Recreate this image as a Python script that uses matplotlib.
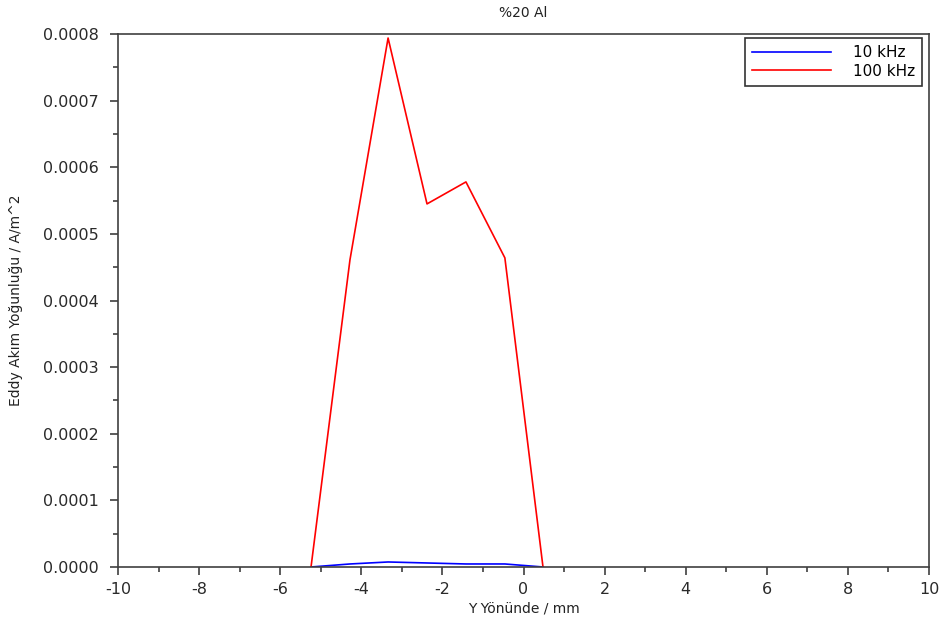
#!/usr/bin/env python3

import matplotlib
matplotlib.use("Agg")
import matplotlib.pyplot as plt
from matplotlib.ticker import MultipleLocator, FormatStrFormatter

# values
y_pos_mm = [-5.24, -4.28, -3.34, -2.38, -1.42, -0.46, 0.48]
eddy_100khz = [0.0, 0.000461, 0.000794, 0.000545, 0.000578, 0.000464, 0.0]
eddy_10khz = [0.0, 4.5e-6, 7.5e-6, 6.0e-6, 4.5e-6, 4.5e-6, 0.0]

series_labels = ["10 kHz", "100 kHz"]
title = "%20 Al"
x_label = "Y Yönünde / mm"
y_label = "Eddy Akım Yoğunluğu / A/m^2"


def main() -> int:
    plt.rcParams["font.family"] = ["DejaVu Sans"]
    fig = plt.figure(figsize=(9.41, 6.21), dpi=100)
    ax = fig.add_axes([0.1254, 0.0870, 0.8619, 0.8582])

    ax.plot(y_pos_mm, eddy_10khz, color="#0000ff", linewidth=1.2, label=series_labels[0])
    ax.plot(y_pos_mm, eddy_100khz, color="#ff0000", linewidth=1.2, label=series_labels[1])

    ax.set_xlim(-10, 10)
    ax.set_ylim(0, 0.0008)
    ax.xaxis.set_major_locator(MultipleLocator(2))
    ax.xaxis.set_minor_locator(MultipleLocator(1))
    ax.yaxis.set_major_locator(MultipleLocator(0.0001))
    ax.yaxis.set_minor_locator(MultipleLocator(0.00005))
    ax.yaxis.set_major_formatter(FormatStrFormatter("%.4f"))
    ax.xaxis.set_major_formatter(FormatStrFormatter("%d"))

    for spine in ax.spines.values():
        spine.set_color("#404040")
        spine.set_linewidth(1.2)
    ax.tick_params(which="major", direction="out", length=6, width=1.2,
                   colors="#404040", labelcolor="#2a2a2a", labelsize=11.5)
    ax.tick_params(axis="x", which="major", pad=5)
    ax.tick_params(axis="y", which="major", pad=8)
    ax.tick_params(which="minor", direction="out", length=3.5, width=1.2, colors="#404040")
    ax.tick_params(top=False, right=False)

    ax.set_title(title, fontsize=10, color="#222222", pad=12)
    ax.set_xlabel(x_label, fontsize=10, color="#222222", labelpad=3)
    ax.set_ylabel(y_label, fontsize=10, color="#222222", labelpad=14)

    leg = ax.legend(loc="upper right", bbox_to_anchor=(0.991, 0.9925), fontsize=11,
                    frameon=True, fancybox=False, handlelength=5.2, handletextpad=1.4,
                    borderpad=0.45, labelspacing=0.25, borderaxespad=0)
    leg.get_frame().set_edgecolor("black")
    leg.get_frame().set_linewidth(1.2)

    fig.savefig("out.png", dpi=100)
    plt.close(fig)
    return 0


if __name__ == "__main__":
    raise SystemExit(main())
